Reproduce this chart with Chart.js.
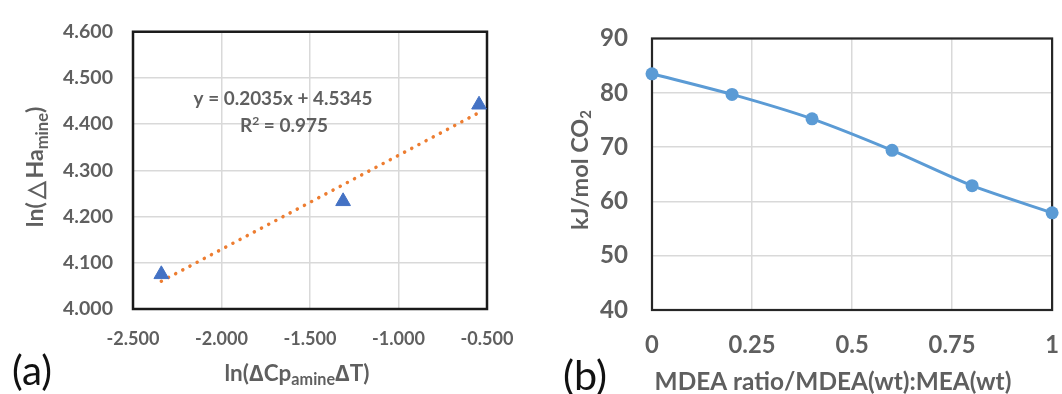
<!DOCTYPE html>
<html><head><meta charset="utf-8">
<script src="https://cdn.jsdelivr.net/npm/chart.js@4.4.1/dist/chart.umd.min.js"></script>
<style>
html,body{margin:0;padding:0;background:#fff;overflow:hidden;width:1062px;height:394px;}
#wa{position:absolute;left:0;top:0;width:540px;height:394px;}
#wb{position:absolute;left:540px;top:0;width:540px;height:394px;}
canvas{display:block;}
</style></head><body>
<div id="wa"><canvas id="ca" width="540" height="394"></canvas></div>
<div id="wb"><canvas id="cb" width="540" height="394"></canvas></div>
<script>
// ---- Panel (a) data ----
const aX = [-2.34, -1.313, -0.545];
const aY = [4.075, 4.233, 4.442];
const aTrendX = [-2.34, -0.545];
const aTrendY = [4.060, 4.425];
const aXTicks = [-2.5, -2.0, -1.5, -1.0, -0.5];
const aYTicks = [4.0, 4.1, 4.2, 4.3, 4.4, 4.5, 4.6];
const aEquation = 'y = 0.2035x + 4.5345';
const aR2 = ' = 0.975';

// ---- Panel (b) data ----
const bX = [0, 0.2, 0.4, 0.6, 0.8, 1.0];
const bY = [83.5, 79.7, 75.2, 69.4, 62.9, 57.9];
const bXTicks = [0, 0.25, 0.5, 0.75, 1];
const bXTickLabels = ['0', '0.25', '0.5', '0.75', '1'];
const bYTicks = [40, 50, 60, 70, 80, 90];

const FAM = 'Lato, "Open Sans", sans-serif';
const GRAY = '#5f5f5f';
const WT = 'bold';

const mctx = document.createElement('canvas').getContext('2d');
function fitSize(text, weight, target) {
  mctx.font = weight + ' 20px ' + FAM;
  return 20 * target / mctx.measureText(text).width;
}

function drawRich(ctx, segs, cx, cy, target, color, rot, weight, subRatio) {
  ctx.save();
  ctx.translate(cx, cy);
  if (rot) ctx.rotate(rot);
  const r = subRatio || 0.64;
  const wt = weight || WT;
  const measure = size => {
    let w = 0;
    for (const s of segs) { ctx.font = wt + ' ' + ((s.sub || s.sup) ? size * r : size) + 'px ' + FAM; w += ctx.measureText(s.t).width; }
    return w;
  };
  const size = 20 * target / measure(20);
  const w = measure(size);
  let x = -w / 2;
  ctx.fillStyle = color; ctx.textBaseline = 'middle'; ctx.textAlign = 'left';
  for (const s of segs) {
    ctx.font = wt + ' ' + ((s.sub || s.sup) ? size * r : size) + 'px ' + FAM;
    const dy = s.sub ? size * 0.27 : (s.sup ? -size * 0.28 : 0);
    ctx.fillText(s.t, x, dy);
    x += ctx.measureText(s.t).width;
  }
  ctx.restore();
}

function framePlugin(color, width) {
  return {
    id: 'frame',
    beforeDatasetsDraw(chart) {
      const {ctx, chartArea: a} = chart;
      ctx.save();
      ctx.strokeStyle = color; ctx.lineWidth = width;
      ctx.strokeRect(a.left, a.top, a.right - a.left, a.bottom - a.top);
      ctx.restore();
    }
  };
}

Chart.defaults.font.family = FAM;
Chart.defaults.color = GRAY;

function build() {
const aYFont = fitSize('4.600', WT, 50);
const aXFont = fitSize('-2.500', WT, 53);
const bXFont = fitSize('0.25', WT, 47);
const bYFont = fitSize('90', WT, 28);

// ---------- Chart (a) ----------
new Chart(document.getElementById('ca'), {
  type: 'scatter',
  data: {
    datasets: [
      {
        type: 'line',
        data: aTrendX.map((x, i) => ({x, y: aTrendY[i]})),
        borderColor: '#ed7d31', borderWidth: 3.5,
        borderDash: [0.1, 8], borderCapStyle: 'round',
        pointRadius: 0, fill: false, clip: false, order: 2
      },
      {
        data: aX.map((x, i) => ({x, y: aY[i]})),
        pointStyle: 'triangle', pointRadius: 8.5,
        backgroundColor: '#4472c4', borderColor: '#4472c4', borderWidth: 1,
        clip: false, order: 1
      }
    ]
  },
  options: {
    responsive: false, animation: false,
    plugins: {legend: {display: false}, tooltip: {enabled: false}},
    layout: {padding: {left: 0, right: 53, top: 23, bottom: 0}},
    scales: {
      x: {
        type: 'linear', min: -2.5, max: -0.5,
        afterBuildTicks: s => { s.ticks = aXTicks.map(v => ({value: v})); },
        afterFit: s => { s.height = 85; },
        grid: {color: '#d9d9d9', lineWidth: 1.5, drawTicks: false},
        border: {display: false},
        ticks: {padding: 19, color: GRAY, font: {size: aXFont, weight: WT}, callback: v => v.toFixed(3)}
      },
      y: {
        type: 'linear', min: 4.0, max: 4.6,
        afterBuildTicks: s => { s.ticks = aYTicks.map(v => ({value: v})); },
        afterFit: s => { s.width = 133; },
        grid: {color: '#d9d9d9', lineWidth: 1.5, drawTicks: false},
        border: {display: false},
        ticks: {padding: 20, color: GRAY, font: {size: aYFont, weight: WT}, callback: v => v.toFixed(3)}
      }
    }
  },
  plugins: [framePlugin('#1a1a1a', 2.5), {
    id: 'textsA',
    afterDraw(chart) {
      const ctx = chart.ctx;
      drawRich(ctx, [{t: aEquation}], 283, 99, 179, GRAY);
      drawRich(ctx, [{t: 'R'}, {t: '2', sup: true}, {t: aR2}], 284, 126, 88, GRAY);
      drawRich(ctx, [{t: 'ln(∆Cp'}, {t: 'amine', sub: true}, {t: '∆T)'}], 297, 374, 145, GRAY, 0, WT, 0.72);
      drawRich(ctx, [{t: 'ln(\u2009△\u2009Ha'}, {t: 'mine', sub: true}, {t: ')'}], 36, 167, 120, GRAY, -Math.PI / 2, WT, 0.72);
      drawRich(ctx, [{t: '(a)'}], 32, 372, 40, '#111', 0, 'normal');
    }
  }]
});

// ---------- Chart (b) ----------
new Chart(document.getElementById('cb'), {
  type: 'line',
  data: {
    datasets: [{
      data: bX.map((x, i) => ({x, y: bY[i]})),
      borderColor: '#5b9bd5', backgroundColor: '#5b9bd5',
      borderWidth: 3, tension: 0.25,
      pointRadius: 6.5, pointBorderWidth: 0,
      fill: false, clip: false
    }]
  },
  options: {
    responsive: false, animation: false,
    plugins: {legend: {display: false}, tooltip: {enabled: false}},
    layout: {padding: {left: 0, right: 23, top: 32, bottom: 0}},
    scales: {
      x: {
        type: 'linear', min: 0, max: 1,
        afterBuildTicks: s => { s.ticks = bXTicks.map(v => ({value: v})); },
        afterFit: s => { s.height = 84; },
        grid: {color: '#d9d9d9', lineWidth: 1.5, drawTicks: false},
        border: {display: false},
        ticks: {padding: 21, color: GRAY, font: {size: bXFont, weight: WT},
          callback: v => bXTickLabels[bXTicks.indexOf(v)]}
      },
      y: {
        type: 'linear', min: 40, max: 90,
        afterBuildTicks: s => { s.ticks = bYTicks.map(v => ({value: v})); },
        afterFit: s => { s.width = 112; },
        grid: {color: '#d9d9d9', lineWidth: 1.5, drawTicks: false},
        border: {display: false},
        ticks: {padding: 24, color: GRAY, font: {size: bYFont, weight: WT}}
      }
    }
  },
  plugins: [framePlugin('#262626', 2.2), {
    id: 'textsB',
    afterDraw(chart) {
      const ctx = chart.ctx;
      drawRich(ctx, [{t: 'MDEA ratio/MDEA(wt):MEA(wt)'}], 293, 382, 357, GRAY);
      drawRich(ctx, [{t: 'kJ/mol CO'}, {t: '2', sub: true}], 40, 170, 120, GRAY, -Math.PI / 2);
      drawRich(ctx, [{t: '(b)'}], 45, 377, 44, '#111', 0, 'normal');
    }
  }]
});
}
if (document.fonts && document.fonts.load) {
  Promise.all(['normal','bold'].map(w => document.fonts.load(w + ' 20px Lato'))).then(build, build);
} else build();
</script>
</body></html>
